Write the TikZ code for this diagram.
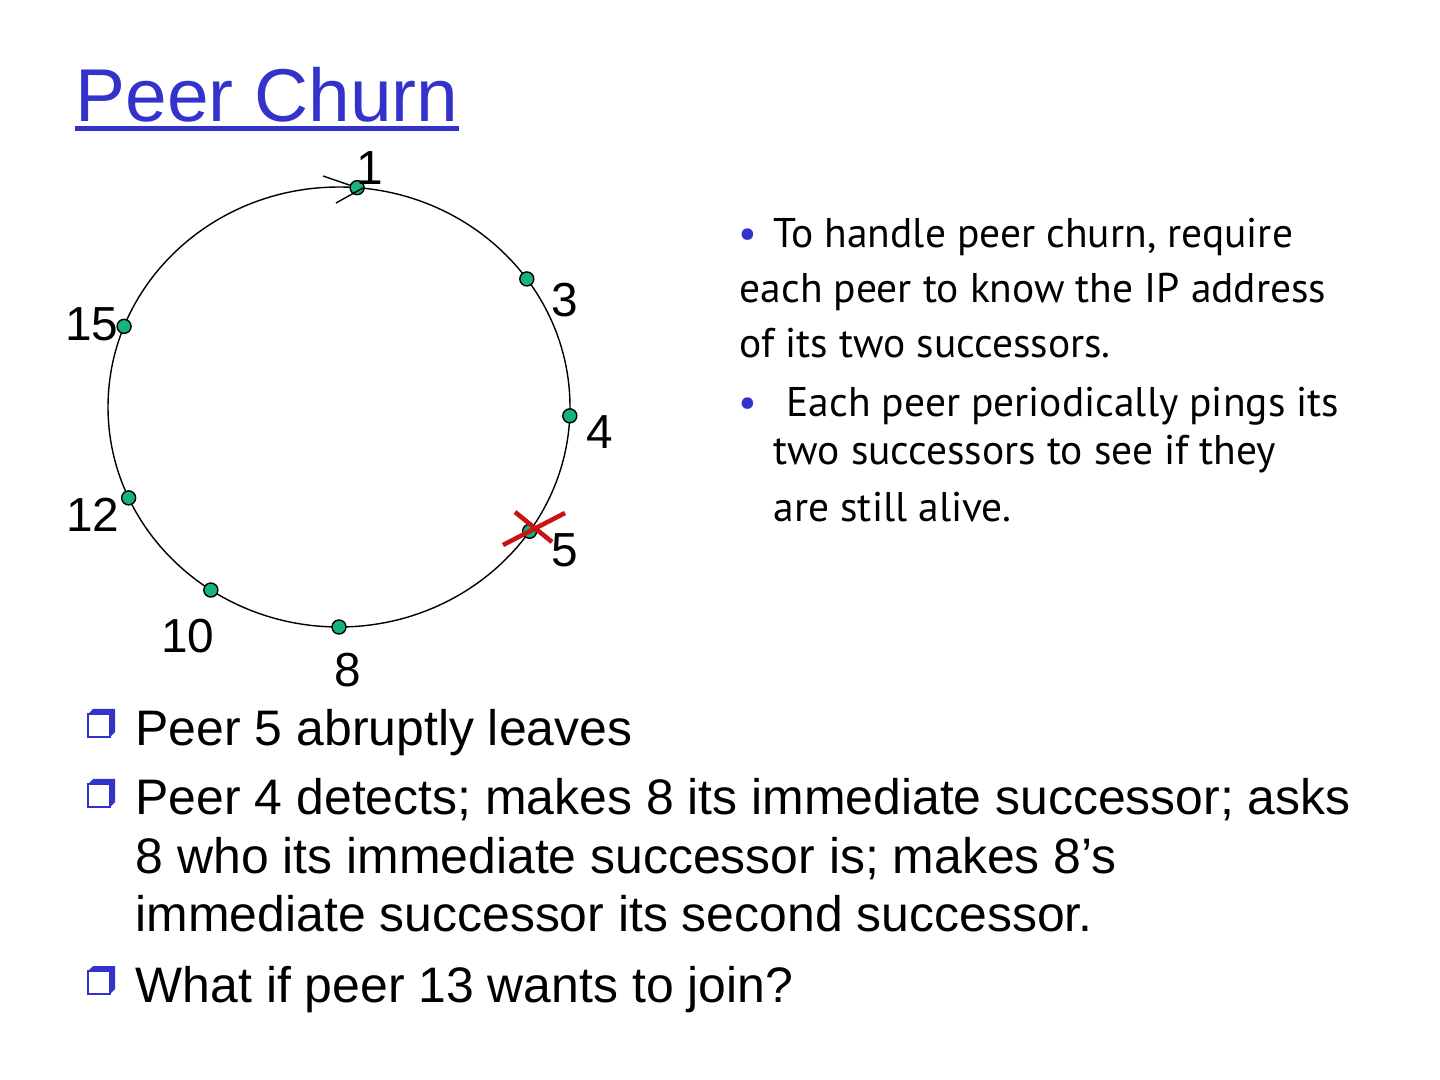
\documentclass[tikz,border=0pt]{standalone}
\usepackage{fontspec}
\setmainfont{Liberation Sans}
\newfontfamily\notefont{PT Sans}

\definecolor{titleblue}{RGB}{51,51,204}
\definecolor{peergreen}{RGB}{22,178,128}
\definecolor{crossred}{RGB}{200,20,20}

\begin{document}
\begin{tikzpicture}[
    peer/.style={
        circle, draw=black, fill=peergreen, line width=0.4pt,
        minimum size=0.14cm, inner sep=0pt,
    },
    peerlabel/.style={
        font=\fontsize{13.6}{16}\selectfont, inner sep=0pt,
    },
    noteline/.style={
        font=\notefont\fontsize{11.8}{14}\selectfont,
        anchor=base west, inner sep=0pt,
    },
    mainline/.style={
        font=\fontsize{14.2}{17}\selectfont,
        anchor=base west, inner sep=0pt,
    },
    crossline/.style={draw=crossred, line width=1.3pt},
]
\useasboundingbox (0,0) rectangle (14.4,-10.8);

% ── Title ───────────────────────────────────────────────────
\node[font=\fontsize{21.3}{25}\selectfont, text=titleblue,
      anchor=base west, inner sep=0pt] (title) at (0.75,-1.22) {Peer Churn};
\draw[titleblue, line width=1.4pt]
    ([yshift=-0.065cm]title.base west) -- ([yshift=-0.065cm]title.base east);

% ── Ring of peers ───────────────────────────────────────────
\coordinate (ring) at (3.39,-4.07);
\draw[line width=0.4pt] (ring) ellipse [x radius=2.31, y radius=2.20];

\foreach \n/\a in {1/85.5, 3/35.6, 4/-2.3, 5/-34.4, 8/-90, 10/-123.7, 12/-155.6, 15/158.5} {
    \node[peer] (peer\n) at ([shift={(\a:2.31cm and 2.20cm)}]ring) {};
}

% Labels
\foreach \n/\x/\y in {1/3.70/-1.68, 3/5.65/-3.00, 4/6.00/-4.32, 5/5.65/-5.50,
                      8/3.48/-6.70, 10/1.88/-6.36, 12/0.93/-5.15, 15/0.92/-3.24} {
    \node[peerlabel] (lab\n) at (\x,\y) {\n};
}

% direction mark at peer 1
\coordinate (tickA) at (3.23,-1.76);
\coordinate (tickB) at (3.36,-2.03);
\coordinate (tickC) at (3.63,-1.88);
\draw[line width=0.4pt] (tickA) -- (peer1);
\draw[line width=0.4pt] (tickB) -- (tickC);

% peer 5 leaves
\coordinate (xa1) at (5.15,-5.12);
\coordinate (xa2) at (5.52,-5.42);
\coordinate (xb1) at (5.03,-5.45);
\coordinate (xb2) at (5.65,-5.13);
\draw[crossline] (xa1) -- (xa2);
\draw[crossline] (xb1) -- (xb2);

% ── Notes on the right ──────────────────────────────────────
\node[noteline, text=titleblue] (dotA) at (7.38,-2.48) {•};
\node[noteline, text=titleblue] (dotB) at (7.38,-4.17) {•};
\foreach \x/\y/\t [count=\i] in {
    7.73/-2.48/{To handle peer churn, require},
    7.39/-3.03/{each peer to know the IP address},
    7.39/-3.58/{of its two successors.},
    7.86/-4.17/{Each peer periodically pings its},
    7.73/-4.65/{two successors to see if they},
    7.73/-5.22/{are still alive.}} {
    \node[noteline] (note\i) at (\x,\y) {\t};
}

% ── Main bullets ────────────────────────────────────────────
% shadowed box in front of each point
\foreach \y in {-7.45, -8.15, -10.02} {
    \fill[titleblue] (0.88,\y+0.31) -- (0.93,\y+0.36) -- (1.15,\y+0.36)
        -- (1.15,\y+0.13) -- (1.10,\y+0.08) -- (1.10,\y+0.31) -- cycle;
    \draw[titleblue, line width=0.5pt] (0.88,\y+0.08) rectangle (1.10,\y+0.31);
}
\foreach \y/\t [count=\i] in {
    -7.45/{Peer 5 abruptly leaves},
    -8.15/{Peer 4 detects; makes 8 its immediate successor; asks},
    -8.73/{8 who its immediate successor is; makes 8’s},
    -9.31/{immediate successor its second successor.},
    -10.02/{What if peer 13 wants to join?}} {
    \node[mainline] (line\i) at (1.35,\y) {\t};
}

\end{tikzpicture}
\end{document}
